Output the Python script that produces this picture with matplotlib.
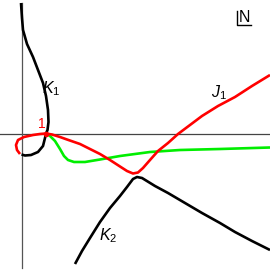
import matplotlib
matplotlib.use("Agg")
import matplotlib.pyplot as plt

plt.rcParams["mathtext.fontset"] = "custom"
plt.rcParams["mathtext.it"] = "Liberation Sans:italic"
plt.rcParams["mathtext.rm"] = "Liberation Sans"
plt.rcParams["font.family"] = ["Liberation Sans", "DejaVu Sans"]

# curve K1 (upper branch plus black part of the loop)
k1_x = [-0.014, 0.006, 0.026, 0.106, 0.226, 0.326, 0.426, 0.486, 0.526, 0.536,
        0.516, 0.486, 0.466, 0.426, 0.326, 0.186, 0.066, -0.004]
k1_y = [2.61, 2.31, 2.07, 1.79, 1.53, 1.27, 1.01, 0.75, 0.47, 0.23,
        0.07, 0.0, -0.09, -0.25, -0.37, -0.43, -0.44, -0.42]

# curve J1 (red)
j1_x = [-0.034, -0.094, -0.114, -0.074, 0.046, 0.226, 0.366, 0.486, 0.606, 0.766,
        0.906, 1.166, 1.406, 1.566, 1.766, 1.966, 2.106, 2.226, 2.326, 2.426,
        2.566, 2.726, 2.926, 3.126, 3.366, 3.606, 3.926, 4.266, 4.606, 4.966]
j1_y = [-0.41, -0.33, -0.23, -0.13, -0.07, -0.03, -0.01, 0.0, -0.02, -0.07,
        -0.12, -0.21, -0.33, -0.41, -0.53, -0.66, -0.75, -0.80, -0.78, -0.69,
        -0.53, -0.35, -0.19, -0.01, 0.17, 0.35, 0.55, 0.73, 0.95, 1.17]

# green curve
g_x = [0.486, 0.566, 0.666, 0.766, 0.846, 0.926, 1.046, 1.266, 1.566, 1.966,
       2.566, 3.166, 3.966, 4.966]
g_y = [0.0, -0.05, -0.15, -0.31, -0.45, -0.53, -0.57, -0.57, -0.52, -0.45,
       -0.37, -0.33, -0.31, -0.28]

# curve K2 (lower black)
k2_x = [1.066, 1.206, 1.366, 1.566, 1.766, 1.966, 2.106, 2.226, 2.306, 2.406,
        2.666, 2.926, 3.266, 3.606, 3.966, 4.266, 4.606, 4.966]
k2_y = [-2.61, -2.35, -2.09, -1.77, -1.49, -1.25, -1.07, -0.91, -0.87, -0.89,
        -1.05, -1.19, -1.39, -1.59, -1.79, -1.97, -2.15, -2.33]

pt_x, pt_y = [0.486], [0.0]

fig = plt.figure(figsize=(2.7, 2.7), dpi=100)
ax = fig.add_axes([0, 0, 1, 1])
ax.set_xlim(-0.434, 4.966)
ax.set_ylim(-2.73, 2.67)
ax.axis("off")

ax.plot([-0.434, 4.966], [0, 0], color="#444444", lw=0.9, zorder=1)
ax.plot([0, 0], [2.61, -2.69], color="#555555", lw=0.9, zorder=1)

kw = dict(lw=1.9, solid_capstyle="butt", solid_joinstyle="round", zorder=3)
ax.plot(k1_x, k1_y, color="black", **kw)
ax.plot(k2_x, k2_y, color="black", **kw)
ax.plot(g_x, g_y, color="#00ee00", **kw)
ax.plot(j1_x, j1_y, color="#ff0000", **kw)
ax.plot(pt_x, pt_y, "o", color="#ff0000", ms=3, zorder=4)

ax.text(0.60, 0.90, "$K_1$", fontsize=11.5, ha="center", va="center")
ax.text(3.94, 0.82, "$J_1$", fontsize=11.5, ha="center", va="center")
ax.text(1.72, -2.04, "$K_2$", fontsize=11.5, ha="center", va="center")
ax.text(0.40, 0.18, "1", color="#ff0000", fontsize=10, ha="center", va="center")

# "N" with corner mark, top right
ax.text(0.906, 0.934, "N", transform=ax.transAxes, fontsize=11.5,
        ha="center", va="center")
ax.plot([0.878, 0.878, 0.928], [0.958, 0.909, 0.909], color="black",
        lw=1.0, transform=ax.transAxes)

fig.savefig("out.png", dpi=100)
